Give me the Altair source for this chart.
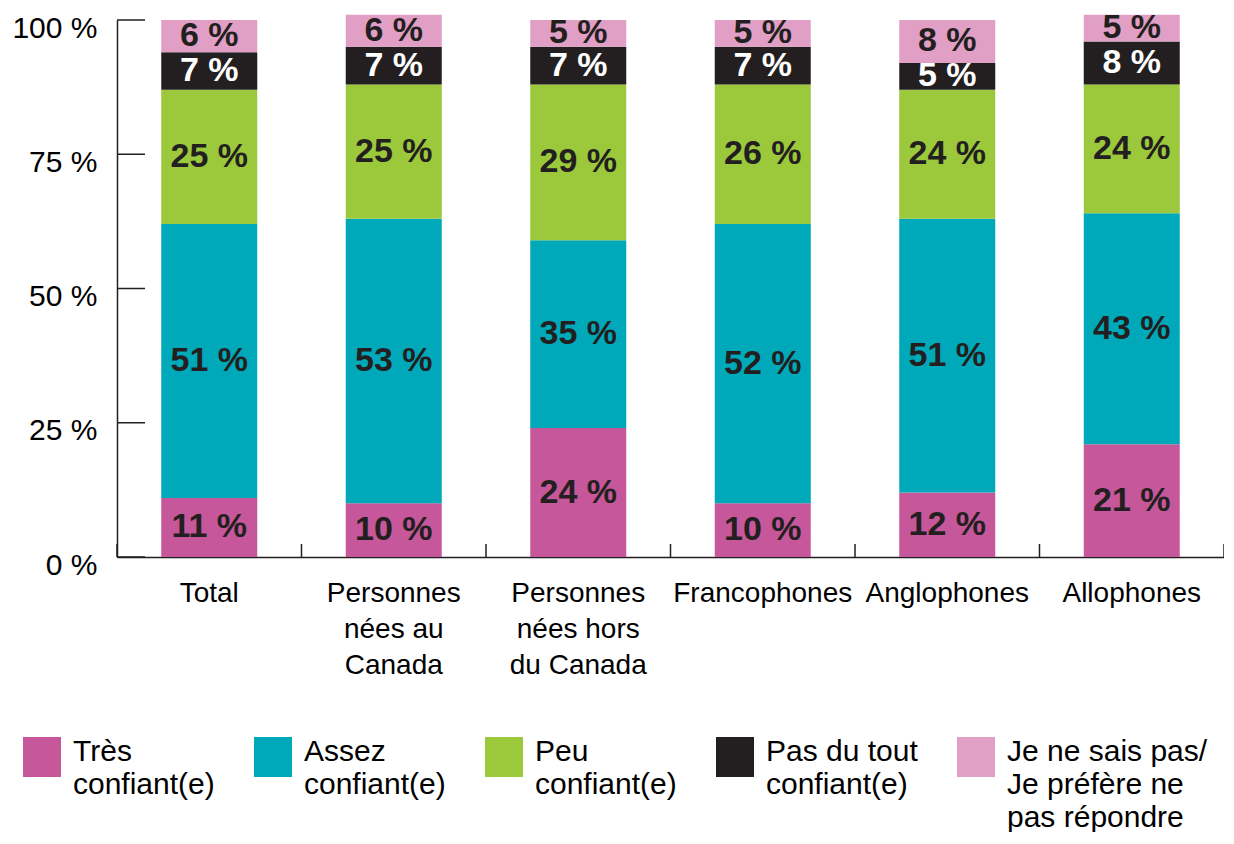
import altair as alt
import pandas as pd

categories = ["Total", "Personnes\nnées au\nCanada", "Personnes\nnées hors\ndu Canada",
              "Francophones", "Anglophones", "Allophones"]
levels = ["Très\nconfiant(e)", "Assez\nconfiant(e)", "Peu\nconfiant(e)",
          "Pas du tout\nconfiant(e)", "Je ne sais pas/\nJe préfère ne\npas répondre"]
tres = [11, 10, 24, 10, 12, 21]
assez = [51, 53, 35, 52, 51, 43]
peu = [25, 25, 29, 26, 24, 24]
pas_du_tout = [7, 7, 7, 7, 5, 8]
nsp = [6, 6, 5, 5, 8, 5]
colors = ["#c6579a", "#00a9ba", "#9cc93b", "#231f20", "#e19fc5"]
y_ticks = [0, 25, 50, 75, 100]

series = [tres, assez, peu, pas_du_tout, nsp]
rows = []
for li, (lev, vals) in enumerate(zip(levels, series)):
    for cat, v in zip(categories, vals):
        rows.append({"cat": cat, "level": lev, "order": li, "v": v})
df = pd.DataFrame(rows)
ticks_df = pd.DataFrame({"t": y_ticks})
cats_df = pd.DataFrame({"cat": categories})
last_df = pd.DataFrame({"cat": categories[-1:]})

FONT = "Liberation Sans"
INK = "#231f20"
W, H = 1107, 537

legend_label_expr = (
    "(length(split(datum.label, '\\n')) < 3) ? "
    "[split(datum.label, '\\n')[0], split(datum.label, '\\n')[1], ''] : "
    "split(datum.label, '\\n')"
)
swatch_path = "M-0.95,0L0.95,0L0.95,2L-0.95,2Z"

x_enc = dict(sort=categories, title=None)
y_scale = alt.Scale(domain=[0, 100], nice=False)

bars = alt.Chart(df).mark_bar(width=96).encode(
    x=alt.X("cat:N", **x_enc,
            scale=alt.Scale(paddingInner=0, paddingOuter=0),
            axis=alt.Axis(labelExpr="split(datum.label, '\\n')", labelAngle=0,
                          labelFontSize=28, labelLineHeight=36, labelPadding=22,
                          labelBaseline="top", ticks=False, domain=True,
                          domainColor=INK, domainWidth=1.5, labelColor="#000",
                          labelFont=FONT, labelLimit=400, grid=False)),
    y=alt.Y("v:Q", stack="zero", title=None, scale=y_scale,
            axis=alt.Axis(values=y_ticks, labelExpr="datum.value + ' %'",
                          ticks=False, domain=True, domainColor=INK, domainWidth=1.5,
                          labelPadding=20, labelOffset=8, labelFontSize=30,
                          labelFont=FONT, labelColor="#000", grid=False)),
    color=alt.Color("level:N", sort=levels,
                    scale=alt.Scale(domain=levels, range=colors),
                    legend=alt.Legend(orient="none", legendX=-95, legendY=697,
                                      direction="horizontal", columns=5, title=None,
                                      symbolType=swatch_path, symbolSize=1600,
                                      symbolStrokeWidth=0, labelFontSize=30,
                                      labelFont=FONT, labelColor="#000", labelLimit=400,
                                      labelOffset=11, columnPadding=38, padding=0,
                                      labelBaseline="top",
                                      labelExpr=legend_label_expr)),
    order=alt.Order("order:Q"),
)

text = alt.Chart(df).transform_stack(
    stack="v", groupby=["cat"], as_=["y0", "y1"], sort=[alt.SortField("order")]
).transform_calculate(
    mid="(datum.y0 + datum.y1) / 2",
    lab="datum.v + ' %'",
    tc="datum.order == 3 ? 'white' : '#231f20'",
).mark_text(font=FONT, fontSize=34, fontWeight="bold", baseline="middle").encode(
    x=alt.X("cat:N", **x_enc),
    y=alt.Y("mid:Q", title=None, scale=y_scale),
    text="lab:N",
    color=alt.Color("tc:N", scale=None),
)

# inward ticks on the value axis
y_tick_marks = alt.Chart(ticks_df).mark_rule(color=INK, strokeWidth=1.5).encode(
    y=alt.Y("t:Q", scale=y_scale, title=None),
    x=alt.value(0), x2=alt.value(28),
)

# inward ticks on the category axis, at band boundaries
x_tick_start = alt.Chart(cats_df).mark_rule(color=INK, strokeWidth=1.5).encode(
    x=alt.X("cat:N", **x_enc, bandPosition=0),
    y=alt.value(H - 13), y2=alt.value(H),
)
x_tick_end = alt.Chart(last_df).mark_rule(color=INK, strokeWidth=1.5).encode(
    x=alt.X("cat:N", **x_enc, bandPosition=1),
    y=alt.value(H - 13), y2=alt.value(H),
)

chart = alt.layer(bars, text, y_tick_marks, x_tick_start, x_tick_end).properties(
    width=W, height=H,
    padding={"left": 109, "top": 12, "right": 0, "bottom": 824 - 12 - H},
    autosize=alt.AutoSizeParams(type="none"),
).configure(
    font=FONT, style={"guide-label": {"lineHeight": 33}}
).configure_view(
    strokeOpacity=0, strokeWidth=0
).configure_axis(
    grid=False
)

chart.save("out.html", embed_options={"renderer": "svg", "actions": False})
